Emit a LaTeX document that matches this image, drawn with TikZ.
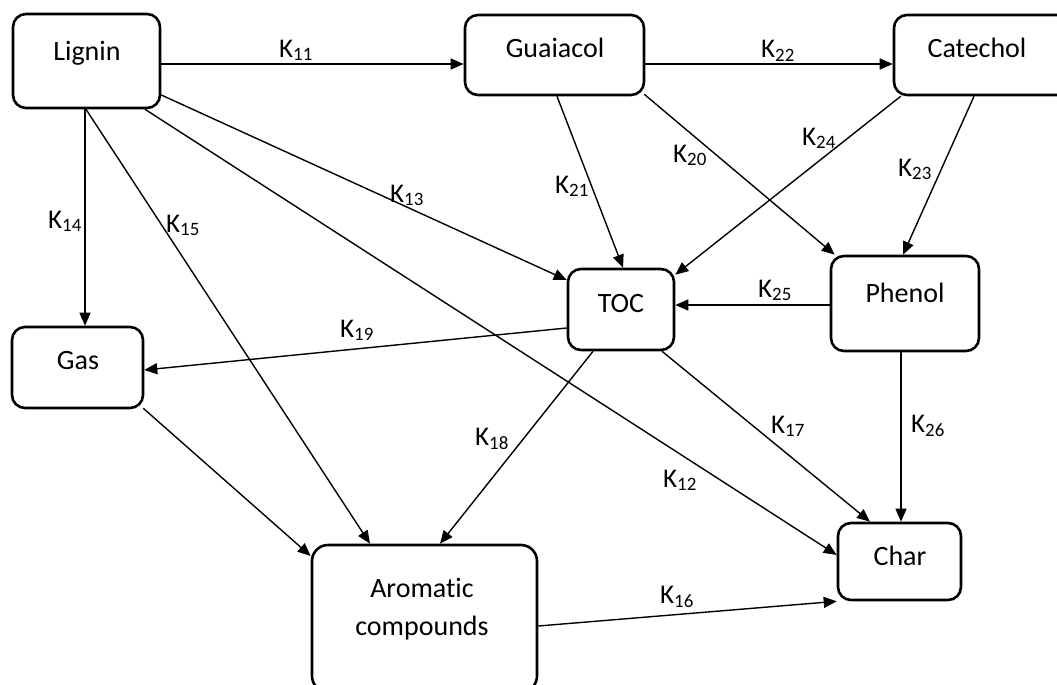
\documentclass[tikz,border=0pt]{standalone}
\usepackage{fontspec}
\setmainfont[Ligatures=NoCommon]{Carlito}
\usetikzlibrary{arrows.meta}
\begin{document}
\begin{tikzpicture}[x=1pt,y=-1pt,
  box/.style={draw, line width=2.6pt, rounded corners=13pt, rectangle, inner sep=0pt},
  txt/.style={font=\fontsize{28}{33}\selectfont, anchor=base, inner sep=0pt},
  klab/.style={font=\fontsize{27}{31}\selectfont, anchor=base, inner sep=0pt},
  arr/.style={line width=1.4pt, -{Triangle[length=13pt,width=11pt]}}]
\useasboundingbox (0,0) rectangle (1057,685);
\clip (0,0) rectangle (1057,685);
% boxes
\node[box, minimum width=147pt, minimum height=94pt] (lig) at (86.5,61) {};
\node[box, minimum width=179pt, minimum height=80pt] (gua) at (554.5,55) {};
\node[box, minimum width=176pt, minimum height=80pt] (cat) at (982,55) {};
\node[box, minimum width=106pt, minimum height=81pt] (toc) at (621,309.5) {};
\node[box, minimum width=148pt, minimum height=95pt] (phe) at (905,303.5) {};
\node[box, minimum width=131pt, minimum height=81pt] (gas) at (77.5,367.5) {};
\node[box, minimum width=225pt, minimum height=147pt, rounded corners=16pt] (aro) at (424.5,618.5) {};
\node[box, minimum width=123pt, minimum height=77pt] (cha) at (899.5,561.5) {};
% texts
\node[txt] (tlig) at (87,61) {Lignin};
\node[txt] (tgua) at (555,58) {Guaiacol};
\node[txt] (tcat) at (977,57) {Catechol};
\node[txt] (ttoc) at (621,312) {TOC};
\node[txt] (tphe) at (905,302) {Phenol};
\node[txt] (tgas) at (78,369) {Gas};
\node[txt] (taro1) at (422,597) {Aromatic};
\node[txt] (taro2) at (422,635) {compounds};
\node[txt] (tcha) at (900,565) {Char};
% connectors
\draw[arr] ([yshift=-3pt]lig.east) -- ([yshift=-9pt]gua.west);
\draw[arr] ([yshift=-9pt]gua.east) -- ([yshift=-9pt]cat.west);
\draw[arr] ([xshift=-1.5pt]lig.south) -- ([xshift=7.5pt]gas.north);
\draw[arr] ([xshift=-0.5pt]lig.south) -- ([xshift=-54.5pt]aro.north);
\draw[arr] ([xshift=58.5pt]lig.south) -- ([yshift=6.5pt]cha.west);
\draw[arr] ([yshift=-34pt]lig.east) -- ([yshift=29.5pt]toc.west);
\draw[arr] ([xshift=2.5pt]gua.south) -- ([xshift=2pt]toc.north);
\draw[arr] ([xshift=-1pt,yshift=2pt]gua.south east) -- ([xshift=5pt]phe.north west);
\draw[arr] ([xshift=8pt]cat.south west) -- ([yshift=-7pt]toc.north east);
\draw[arr] ([xshift=-8pt]cat.south) -- ([xshift=-2pt]phe.north);
\draw[arr] ([yshift=-1.5pt]phe.west) -- ([yshift=4.5pt]toc.east);
\draw[arr] ([yshift=-18.5pt]toc.west) -- ([yshift=-2.5pt]gas.east);
\draw[arr] ([xshift=-28pt]toc.south) -- ([xshift=15.5pt]aro.north);
\draw[arr] ([xshift=41pt]toc.south) -- ([xshift=-29.5pt]cha.north);
\draw[arr] ([xshift=-4pt]phe.south) -- ([xshift=1.5pt]cha.north);
\draw[arr] ([xshift=-1pt,yshift=1pt]gas.south east) -- ([yshift=62.5pt]aro.west);
\draw[arr] ([yshift=-7.5pt]aro.east) -- ([yshift=0pt]cha.south west);
% rate labels
\node[klab] (k11) at (296,57) {K\textsubscript{11}};
\node[klab] (k14) at (65,228) {K\textsubscript{14}};
\node[klab] (k15) at (183,232) {K\textsubscript{15}};
\node[klab] (k13) at (407,202) {K\textsubscript{13}};
\node[klab] (k19) at (357,337) {K\textsubscript{19}};
\node[klab] (k22) at (778,58) {K\textsubscript{22}};
\node[klab] (k21) at (572,193) {K\textsubscript{21}};
\node[klab] (k20) at (690,162) {K\textsubscript{20}};
\node[klab] (k24) at (819,145) {K\textsubscript{24}};
\node[klab] (k23) at (915,176) {K\textsubscript{23}};
\node[klab] (k25) at (775,297) {K\textsubscript{25}};
\node[klab] (k18) at (492,445) {K\textsubscript{18}};
\node[klab] (k17) at (788,433) {K\textsubscript{17}};
\node[klab] (k26) at (928,432) {K\textsubscript{26}};
\node[klab] (k12) at (680,487) {K\textsubscript{12}};
\node[klab] (k16) at (677,603) {K\textsubscript{16}};
\end{tikzpicture}
\end{document}
